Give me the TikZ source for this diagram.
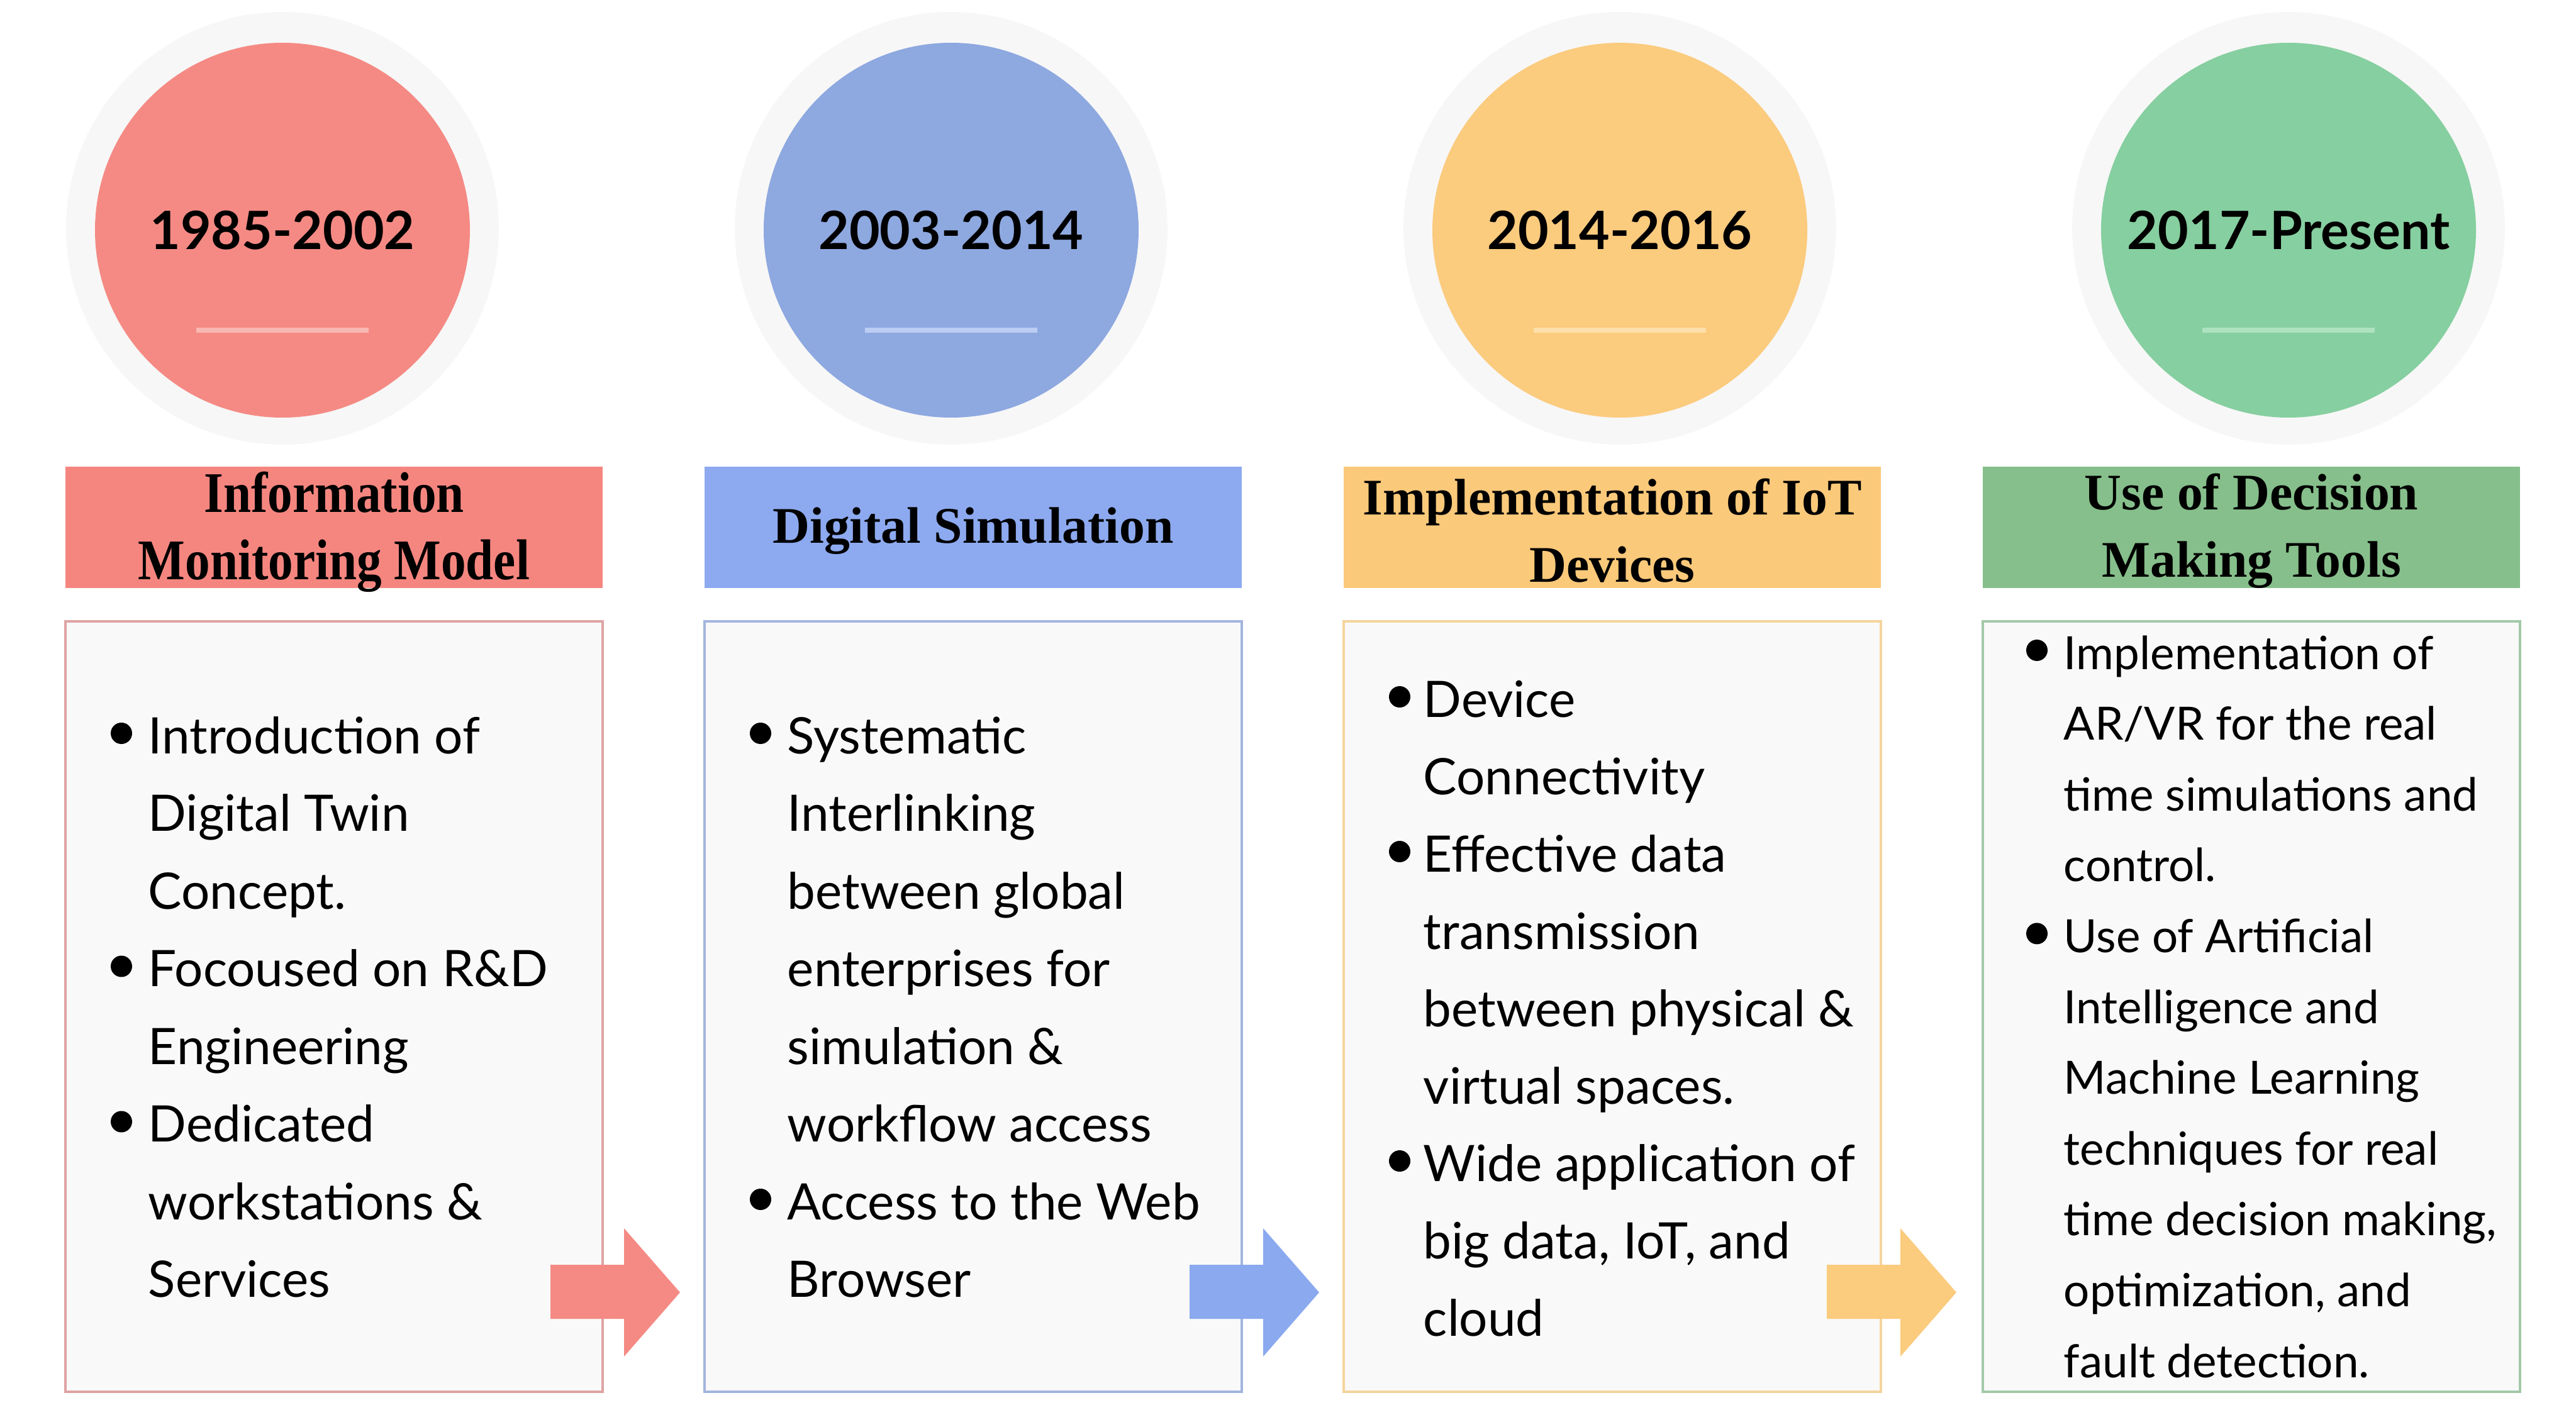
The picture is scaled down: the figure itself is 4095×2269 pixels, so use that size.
\documentclass[tikz,border=0pt]{standalone}
\usepackage{fontspec}
\setmainfont{Liberation Serif}
\newfontfamily\bodyfont{Lato}
\newfontfamily\yearfont{Lato}
\usetikzlibrary{positioning}
\definecolor{redC}{HTML}{F58A84}
\definecolor{redH}{HTML}{F5867F}
\definecolor{redB}{HTML}{DFA3A3}
\definecolor{redL}{HTML}{F9B7B2}
\definecolor{blueC}{HTML}{8EA8E0}
\definecolor{blueH}{HTML}{8DAAF0}
\definecolor{blueB}{HTML}{A3B5DE}
\definecolor{blueL}{HTML}{BBCDF2}
\definecolor{blueA}{HTML}{8AA9EE}
\definecolor{yelC}{HTML}{FBCB7E}
\definecolor{yelH}{HTML}{FAC97A}
\definecolor{yelB}{HTML}{F5D49C}
\definecolor{yelL}{HTML}{FDDFAA}
\definecolor{grnC}{HTML}{86CFA0}
\definecolor{grnH}{HTML}{86BF8B}
\definecolor{grnB}{HTML}{A2C9A8}
\definecolor{grnL}{HTML}{ADE2C0}
\definecolor{boxfill}{HTML}{F9F9F9}
\tikzset{
  halo/.style={circle, fill=black!3, minimum size=172pt, inner sep=0pt},
  disc/.style={circle, minimum size=149pt, inner sep=0pt, font=\yearfont\bfseries\fontsize{21}{25}\selectfont},
  head/.style={minimum width=213.5pt, minimum height=48.25pt, inner sep=0pt},
  headtext/.style={inner sep=0pt, align=center, font=\bfseries\fontsize{20.4}{26.75}\selectfont},
  content/.style={draw, line width=1pt, fill=boxfill, minimum width=213.5pt, minimum height=306.25pt, inner sep=0pt},
  body/.style={inner sep=0pt, anchor=base west, font=\bodyfont\fontsize{20}{24}\selectfont},
  bodysmall/.style={body, font=\bodyfont\fontsize{18.2}{22}\selectfont},
  bul/.style={circle, fill=black, inner sep=0pt, minimum size=8.5pt},
}
\begin{document}
\begin{tikzpicture}[x=0.25pt, y=-0.25pt]
\useasboundingbox (0,0) rectangle (4095,2269);
% circles
\foreach \cx/\col/\ln/\yr [count=\k] in {449/redC/redL/1985-2002, 1512/blueC/blueL/2003-2014, 2575/yelC/yelL/2014-2016, 3638/grnC/grnL/2017-Present}{
  \node[halo] (h\k) at (\cx,363) {};
  \node[disc, fill=\col] (y\k) at (\cx,366) {\yr};
  \draw[\ln, line width=2pt] (\cx-137,525) -- (\cx+137,525);
}
% header boxes
\node[head, fill=redH] (t1) at (531,838) {};
\node[head, fill=blueH] (t2) at (1547,838) {};
\node[head, fill=yelH] (t3) at (2563,838) {};
\node[head, fill=grnH] (t4) at (3579,838) {};
\node[headtext] (l1) at ([yshift=-2pt]t1.center) {\scalebox{0.97}[1.12]{Information}\\\scalebox{0.97}[1.12]{Monitoring Model}};
\node[headtext] (l2) at ([yshift=-1.5pt]t2.center) {Digital Simulation};
\node[headtext] (l3) at ([yshift=-1.5pt]t3.center) {Implementation of IoT\\Devices};
\node[headtext] (l4) at ([yshift=-1.5pt]t4.center) {Use of Decision\\Making Tools};
% content boxes
\node[content, draw=redB] (b1) at (531,1600) {};
\node[content, draw=blueB] (b2) at (1547,1600) {};
\node[content, draw=yelB] (b3) at (2563,1600) {};
\node[content, draw=grnB] (b4) at (3579,1600) {};
% arrows
\foreach \x/\col in {875/redC, 1891/blueA, 2904/yelC}{
  \fill[\col] (\x,2011) -- ++(117,0) -- ++(0,-58) -- ++(89,102) -- ++(-89,102) -- ++(0,-60) -- ++(-117,0) -- cycle;
}
% box 1 text
\foreach \t [count=\i] in {Introduction of, Digital Twin, Concept., Focoused on R\&D, Engineering, Dedicated, workstations \&, Services}{
  \node[body] (p1-\i) at (235,{1198+(\i-1)*123.5}) {\t};
}
\foreach \i in {1,4,6} \node[bul] (q1-\i) at (193,{1198+(\i-1)*123.5-32}) {};
% box 2 text
\foreach \t [count=\i] in {Systematic, Interlinking, between global, enterprises for, simulation \&, workflow access, Access to the Web, Browser}{
  \node[body] (p2-\i) at (1251,{1198+(\i-1)*123.5}) {\t};
}
\foreach \i in {1,7} \node[bul] (q2-\i) at (1209,{1198+(\i-1)*123.5-32}) {};
% box 3 text
\foreach \t [count=\i] in {Device, Connectivity, Effective data, transmission, between physical \&, virtual spaces., Wide application of, {big data, IoT, and}, cloud}{
  \node[body] (p3-\i) at (2262,{1140+(\i-1)*123}) {\t};
}
\foreach \i in {1,3,7} \node[bul] (q3-\i) at (2225,{1140+(\i-1)*123-32}) {};
% box 4 text
\foreach \t [count=\i] in {Implementation of, AR/VR for the real, time simulations and, control., Use of Artificial, Intelligence and, Machine Learning, techniques for real, {time decision making,}, {optimization, and}, fault detection.}{
  \node[bodysmall] (p4-\i) at (3280,{1064+(\i-1)*112.6}) {\t};
}
\foreach \i in {1,5} \node[bul] (q4-\i) at (3238,{1064+(\i-1)*112.6-30}) {};
\end{tikzpicture}
\end{document}
